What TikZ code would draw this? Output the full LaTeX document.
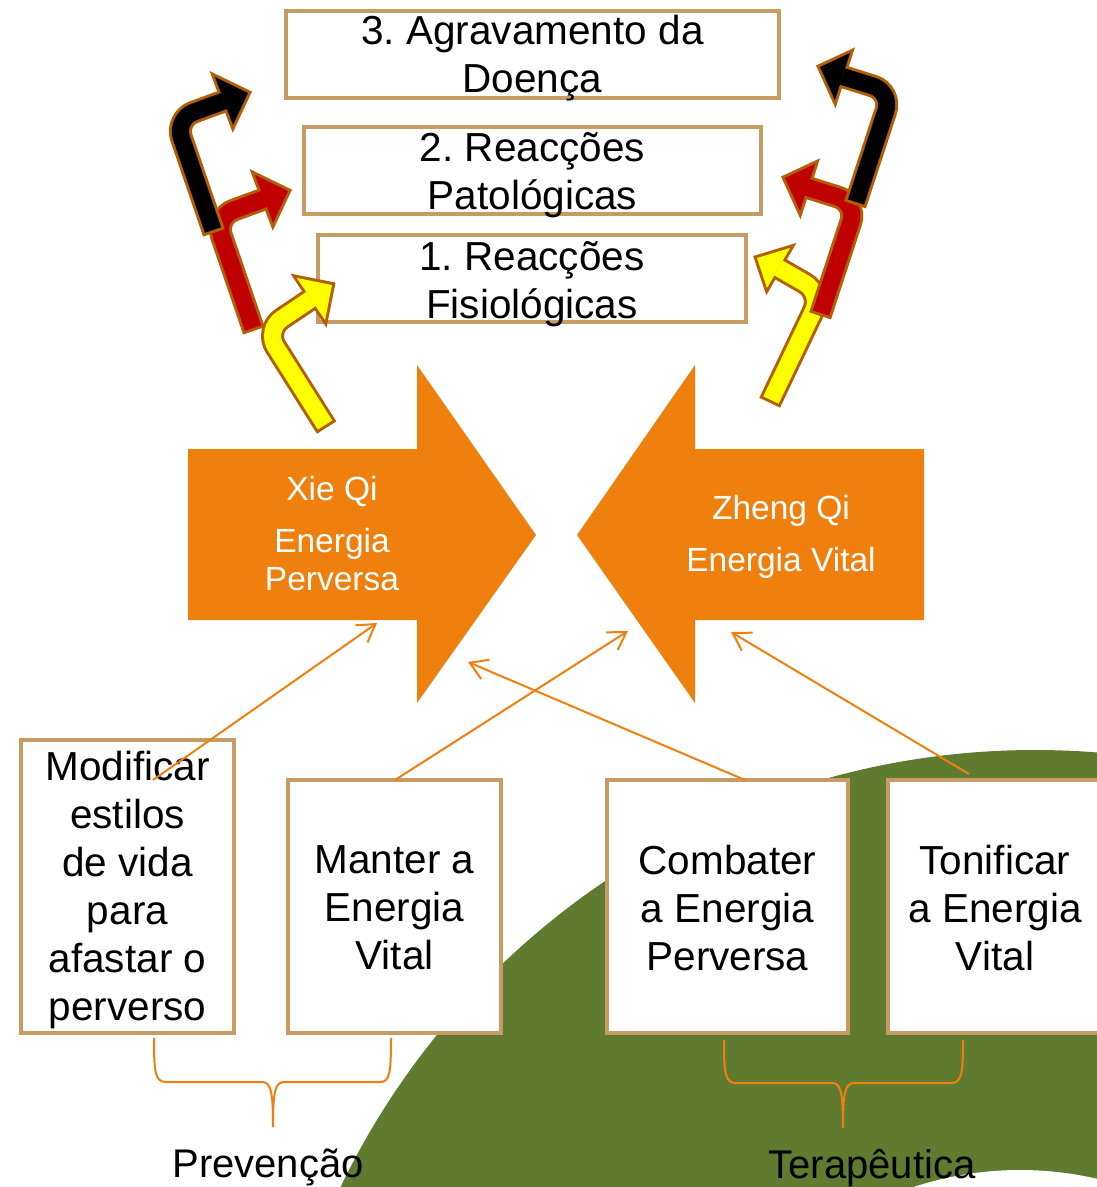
\documentclass[tikz,border=0pt]{standalone}
\usepackage{fontspec}
\setmainfont{Liberation Sans}
\usetikzlibrary{arrows.meta,calc}
\frenchspacing
\definecolor{orng}{RGB}{240,128,14}
\definecolor{grn}{RGB}{94,123,48}
\definecolor{tanb}{RGB}{198,156,100}
\definecolor{arrbrown}{RGB}{180,95,6}
\definecolor{redb}{RGB}{192,0,0}
\definecolor{yelb}{RGB}{255,255,0}
\newcommand\bentarr[7]{%
 \draw[line width=23pt, draw=arrbrown, rounded corners=20pt] ($#2!-3pt!#3$) -- #3 -- #4;
 \filldraw[draw=arrbrown, fill=arrbrown, line width=6pt, line join=miter] #6 -- #5 -- #7 -- cycle;
 \draw[line width=17pt, draw=#1, rounded corners=20pt] #2 -- #3 -- #4;
 \fill[#1] #6 -- #5 -- #7 -- cycle;
}
\begin{document}
\begin{tikzpicture}[x=1pt,y=-1pt,
  box/.style={draw=tanb, line width=3.5pt, fill=white, inner sep=0pt},
  boxtxt/.style={align=center, inner sep=0pt, font=\fontsize{40.5}{48}\selectfont\frenchspacing},
  arrtxt/.style={align=center, inner sep=0pt, text=white, font=\fontsize{33.5}{38}\selectfont},
  lbl/.style={inner sep=0pt, font=\fontsize{40}{48}\selectfont},
  conn/.style={draw=orng, line width=2pt, -{Straight Barb[length=17pt,width=21pt,line width=2pt]}},
  brc/.style={draw=orng, line width=2pt}]
\useasboundingbox (0,0) rectangle (1097,1187);
\clip (0,0) rectangle (1097,1187);
\fill[white] (0,0) rectangle (1097,1187);
% green background shape
\fill[grn] (1035,1520) circle[radius=770];
\fill[white] (1020,1510) circle[radius=340];

% top boxes
\node[box, minimum width=493pt, minimum height=87pt] (b3) at (532.5,54.5) {};
\node[boxtxt, anchor=north] (t3) at (532.5,15) {3. Agravamento da\\Doença};
\node[box, minimum width=457pt, minimum height=87pt] (b2) at (532.5,170.5) {};
\node[boxtxt, anchor=north] (t2) at (532.5,132) {2. Reacções\\Patológicas};
\node[box, minimum width=428pt, minimum height=87pt] (b1) at (532,278.5) {};
\node[boxtxt, anchor=north] (t1) at (532,241) {1. Reacções\\Fisiológicas};

% bent arrows, left
\bentarr{yelb}{(325,425)}{(265,330)}{(311,299)}{(332,285)}{(297,278)}{(325,320)}
\bentarr{redb}{(253,328)}{(215,217)}{(264,199)}{(288,191)}{(255,175)}{(273,223)}
\bentarr{black}{(213,230)}{(175,119)}{(224,101)}{(248,93)}{(215,77)}{(233,125)}
% bent arrows, right
\bentarr{yelb}{(771,400)}{(822,293)}{(778.5,268)}{(757,258)}{(790,248)}{(767,288)}
\bentarr{redb}{(821,313)}{(857,203)}{(807.5,187.5)}{(785,178)}{(815,164)}{(800,211)}
\bentarr{black}{(856,202)}{(892,92)}{(842.5,76.5)}{(820,67)}{(850,53)}{(835,100)}

% big orange arrows
\fill[orng] (188,449) -- (417,449) -- (417,365) -- (536,535) -- (417,703) -- (417,620) -- (188,620) -- cycle;
\fill[orng] (924,449) -- (695,449) -- (695,365) -- (577,535) -- (695,703) -- (695,620) -- (924,620) -- cycle;
\node[arrtxt, anchor=north] (xie) at (332,476) {Xie Qi\\[14pt]Energia\\Perversa};
\node[arrtxt, anchor=north] (zheng) at (781,495) {Zheng Qi\\[14pt]Energia Vital};

% bottom boxes
\node[box, minimum width=213pt, minimum height=293pt] (bA) at (127.5,886.5) {};
\node[boxtxt, anchor=north] (tA) at (127.5,751) {Modificar\\estilos\\de vida\\para\\afastar o\\perverso};
\node[box, minimum width=213pt, minimum height=253pt] (bB) at (394.5,906.5) {};
\node[boxtxt, anchor=north] (tB) at (394.5,845) {Manter a\\Energia\\Vital};
\node[box, minimum width=241pt, minimum height=253pt] (bC) at (727.5,906.5) {};
\node[boxtxt, anchor=north] (tC) at (727.5,845) {Combater\\a Energia\\Perversa};
\node[box, minimum width=214pt, minimum height=253pt] (bD) at (995,906.5) {};
\node[boxtxt, anchor=north] (tD) at (995,845) {Tonificar\\a Energia\\Vital};

% connectors
\coordinate (sA) at (153,780); \coordinate (eA) at (377,623);
\coordinate (sB) at (395,780); \coordinate (eB) at (628,631);
\coordinate (sC) at (745,780); \coordinate (eC) at (468,662);
\coordinate (sD) at (969,774); \coordinate (eD) at (731,632);
\draw[conn] (sA) -- (eA);
\draw[conn] (sB) -- (eB);
\draw[conn] (sC) -- (eC);
\draw[conn] (sD) -- (eD);

% braces
\draw[brc] (154,1038) .. controls (154,1072) and (155,1082) .. (166,1082) -- (262,1082) .. controls (271,1082) and (273,1092) .. (273,1127);
\draw[brc] (391,1038) .. controls (391,1072) and (390,1082) .. (380,1082) -- (284,1082) .. controls (275,1082) and (273,1092) .. (273,1127);
\draw[brc] (724,1040) .. controls (724,1073) and (725,1083) .. (736,1083) -- (832,1083) .. controls (841,1083) and (843,1093) .. (843,1128);
\draw[brc] (963,1040) .. controls (963,1073) and (962,1083) .. (951,1083) -- (854,1083) .. controls (845,1083) and (843,1093) .. (843,1128);
\node[lbl, anchor=base] (prev) at (268,1177) {Prevenção};
\node[lbl, anchor=base] (tera) at (872,1178) {Terapêutica};
\end{tikzpicture}
\end{document}
